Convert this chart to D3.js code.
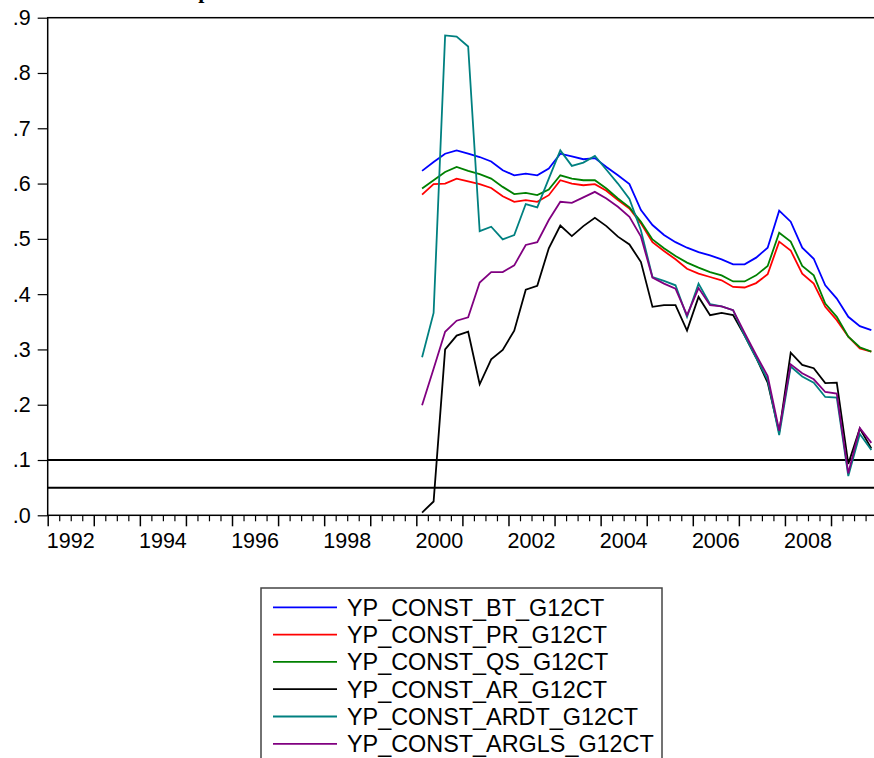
<!DOCTYPE html>
<html>
<head>
<meta charset="utf-8">
<script src="https://cdn.jsdelivr.net/npm/d3@7"></script>
<style>
  html, body { margin: 0; padding: 0; background: #fff; }
  svg { display: block; font-family: "Liberation Sans", Arial, sans-serif; }
</style>
</head>
<body>
<svg id="chart" width="874" height="758"></svg>
<script>
// Quarterly sample 2000Q1 - 2009Q4
const startYear = 2000;
const nQuarters = 40;

const seriesNames = [
  "YP_CONST_BT_G12CT",
  "YP_CONST_PR_G12CT",
  "YP_CONST_QS_G12CT",
  "YP_CONST_AR_G12CT",
  "YP_CONST_ARDT_G12CT",
  "YP_CONST_ARGLS_G12CT"
];
const seriesColors = ["#0000ff", "#ff0000", "#008000", "#000000", "#008080", "#800080"];

const bt = [0.623, 0.639, 0.654, 0.660, 0.654, 0.648, 0.640, 0.624,
            0.615, 0.618, 0.615, 0.627, 0.654, 0.649, 0.644, 0.646,
            0.630, 0.615, 0.599, 0.552, 0.525, 0.507, 0.494, 0.484,
            0.476, 0.470, 0.463, 0.454, 0.454, 0.466, 0.484, 0.551,
            0.531, 0.484, 0.464, 0.416, 0.392, 0.359, 0.342, 0.335];
const pr = [0.580, 0.599, 0.600, 0.609, 0.604, 0.599, 0.592, 0.577,
            0.567, 0.570, 0.567, 0.579, 0.606, 0.600, 0.597, 0.599,
            0.587, 0.570, 0.555, 0.528, 0.494, 0.478, 0.463, 0.446,
            0.437, 0.431, 0.425, 0.413, 0.412, 0.420, 0.436, 0.495,
            0.479, 0.437, 0.419, 0.377, 0.353, 0.323, 0.302, 0.296];
const qs = [0.591, 0.606, 0.621, 0.630, 0.623, 0.617, 0.609, 0.594,
            0.581, 0.583, 0.579, 0.589, 0.615, 0.609, 0.606, 0.606,
            0.591, 0.573, 0.557, 0.531, 0.499, 0.483, 0.469, 0.457,
            0.448, 0.440, 0.434, 0.423, 0.423, 0.434, 0.451, 0.511,
            0.495, 0.451, 0.434, 0.383, 0.359, 0.323, 0.304, 0.296];
const ar = [0.005, 0.025, 0.300, 0.325, 0.332, 0.237, 0.282, 0.299,
            0.334, 0.408, 0.415, 0.483, 0.524, 0.505, 0.523, 0.538,
            0.523, 0.504, 0.490, 0.458, 0.377, 0.380, 0.380, 0.334,
            0.395, 0.362, 0.366, 0.362, 0.325, 0.285, 0.240, 0.150,
            0.294, 0.272, 0.266, 0.239, 0.240, 0.093, 0.157, 0.121];
const ardt = [0.286, 0.366, 0.868, 0.866, 0.848, 0.514, 0.522, 0.499,
              0.507, 0.563, 0.557, 0.609, 0.660, 0.632, 0.638, 0.650,
              0.625, 0.600, 0.572, 0.515, 0.431, 0.424, 0.416, 0.359,
              0.419, 0.382, 0.378, 0.371, 0.325, 0.285, 0.245, 0.145,
              0.269, 0.251, 0.240, 0.214, 0.213, 0.071, 0.147, 0.118];
const argls = [0.199, 0.265, 0.332, 0.352, 0.358, 0.421, 0.440, 0.440,
               0.452, 0.489, 0.494, 0.534, 0.567, 0.565, 0.575, 0.585,
               0.573, 0.558, 0.540, 0.504, 0.430, 0.419, 0.410, 0.362,
               0.411, 0.380, 0.378, 0.371, 0.330, 0.290, 0.252, 0.153,
               0.273, 0.257, 0.246, 0.223, 0.220, 0.076, 0.158, 0.131];

const seriesValues = [bt, pr, qs, ar, ardt, argls];

// Reference levels
const refLevels = [0.1, 0.05];

// Axis ticks
const yTicks = [0, 0.1, 0.2, 0.3, 0.4, 0.5, 0.6, 0.7, 0.8, 0.9];
const yearLabels = [1992, 1994, 1996, 1998, 2000, 2002, 2004, 2006, 2008];
const axisStartYear = 1992, axisEndYear = 2010;

const titleText = "Recession probabilities";

// ---- layout ----
const svg = d3.select("#chart");
const plotL = 47.7, plotR = 877.1, plotT = 17.7, plotB = 515.3;

const x = d3.scaleLinear().domain([axisStartYear, axisEndYear]).range([plotL, plotR]);
const y = d3.scaleLinear().domain([0, 0.9]).range([plotB, plotT]);

// time of each observation (centre of its quarter)
const obsTime = d3.range(nQuarters).map(i => startYear + i / 4 + 1 / 8);

// title (runs off the top edge)
svg.append("text")
  .attr("x", 101).attr("y", -2)
  .attr("font-family", "'Liberation Serif', 'Times New Roman', serif")
  .attr("font-weight", "bold")
  .attr("font-size", 22)
  .text(titleText);

// plot frame
svg.append("rect")
  .attr("x", plotL).attr("y", plotT)
  .attr("width", plotR - plotL).attr("height", plotB - plotT)
  .attr("fill", "none").attr("stroke", "#000").attr("stroke-width", 1.5);

// y axis
const yAxis = d3.axisLeft(y)
  .tickValues(yTicks)
  .tickSize(10)
  .tickSizeOuter(0)
  .tickPadding(7)
  .tickFormat(d => d3.format(".1f")(d).replace(/^0/, ""));
const gy = svg.append("g").attr("transform", `translate(${plotL},0)`).call(yAxis);
gy.select(".domain").remove();
gy.selectAll("line").attr("stroke", "#000").attr("stroke-width", 1.2);
gy.selectAll("text").attr("font-size", 21.5).attr("fill", "#000")
  .attr("font-family", "'Liberation Sans', Arial, sans-serif");

// x axis: quarter ticks and year ticks
const quarterTicks = d3.range(axisStartYear * 4, axisEndYear * 4).map(q => q / 4).filter(t => t % 1 !== 0);
const yearTicks = d3.range(axisStartYear, axisEndYear + 1);

const gq = svg.append("g").attr("transform", `translate(0,${plotB})`)
  .call(d3.axisBottom(x).tickValues(quarterTicks).tickSize(6).tickSizeOuter(0).tickFormat(""));
gq.select(".domain").remove();
gq.selectAll("line").attr("stroke", "#000").attr("stroke-width", 1.2);

const gyrs = svg.append("g").attr("transform", `translate(0,${plotB})`)
  .call(d3.axisBottom(x).tickValues(yearTicks).tickSize(11).tickSizeOuter(0).tickFormat(""));
gyrs.select(".domain").remove();
gyrs.selectAll("line").attr("stroke", "#000").attr("stroke-width", 1.5);

// year labels centred in their year
svg.append("g").selectAll("text")
  .data(yearLabels).join("text")
  .attr("x", d => x(d + 0.5))
  .attr("y", 548)
  .attr("text-anchor", "middle")
  .attr("font-size", 21.5)
  .attr("fill", "#000")
  .text(d => d);

// reference lines
svg.append("g").selectAll("line")
  .data(refLevels).join("line")
  .attr("x1", plotL).attr("x2", plotR)
  .attr("y1", d => y(d)).attr("y2", d => y(d))
  .attr("stroke", "#000").attr("stroke-width", 2);

// series lines
const line = d3.line()
  .x((d, i) => x(obsTime[i]))
  .y(d => y(d));

svg.append("g").selectAll("path")
  .data(seriesValues).join("path")
  .attr("d", d => line(d))
  .attr("fill", "none")
  .attr("stroke", (d, i) => seriesColors[i])
  .attr("stroke-width", 1.8)
  .attr("stroke-linejoin", "miter");

// legend
const lg = svg.append("g");
lg.append("rect")
  .attr("x", 261).attr("y", 588)
  .attr("width", 401).attr("height", 200)
  .attr("fill", "#fff").attr("stroke", "#444").attr("stroke-width", 1.5);

const rowY = i => 607.3 + i * 27.3;
lg.selectAll("line.key")
  .data(seriesNames).join("line")
  .attr("class", "key")
  .attr("x1", 273).attr("x2", 337)
  .attr("y1", (d, i) => rowY(i)).attr("y2", (d, i) => rowY(i))
  .attr("stroke", (d, i) => seriesColors[i])
  .attr("stroke-width", 1.8);
lg.selectAll("text.label")
  .data(seriesNames).join("text")
  .attr("class", "label")
  .attr("x", 347)
  .attr("y", (d, i) => rowY(i) + 8.3)
  .attr("font-size", 23.4)
  .attr("fill", "#000")
  .text(d => d);
</script>
</body>
</html>
